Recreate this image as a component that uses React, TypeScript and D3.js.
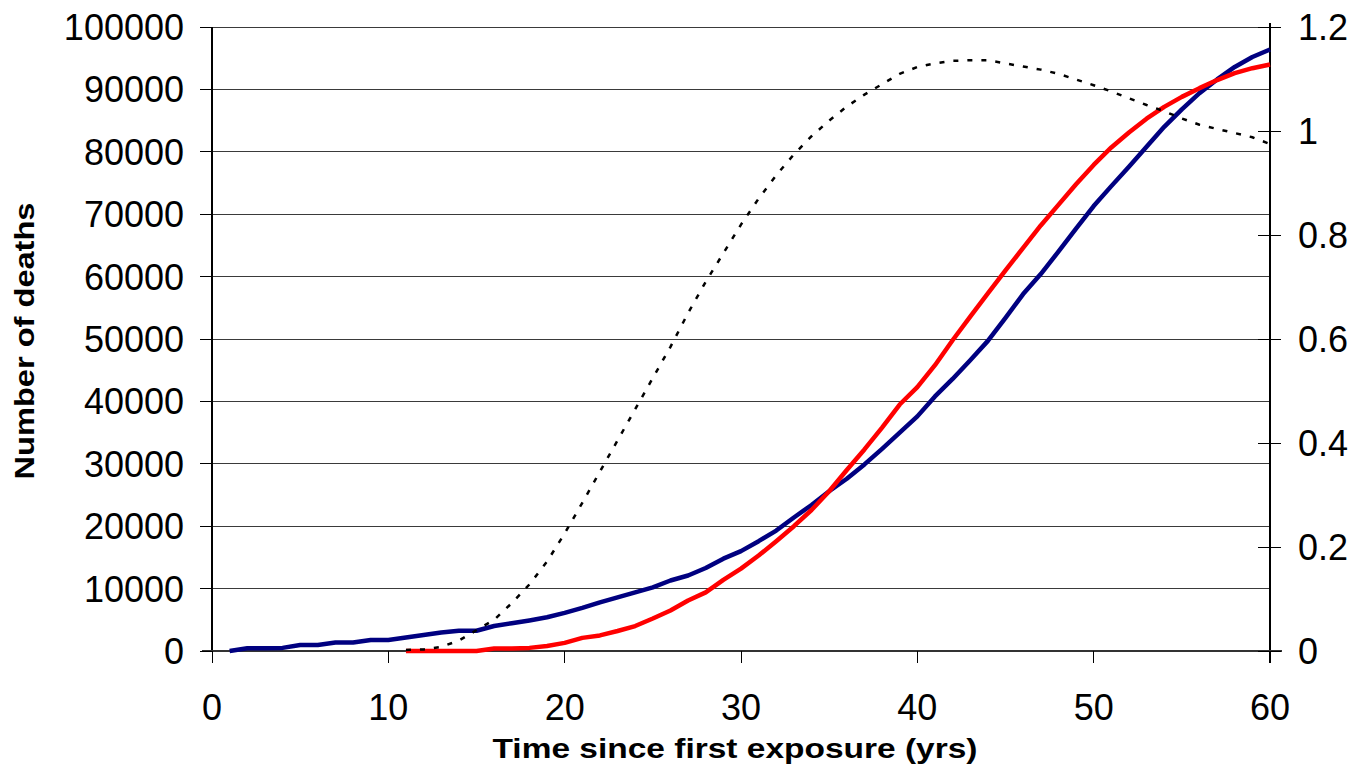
import React from "react";
import * as d3 from "d3";

const blueYears = [1,2,3,4,5,6,7,8,9,10,11,12,13,14,15,16,17,18,19,20,21,22,23,24,25,26,27,28,29,30,31,32,33,34,35,36,37,38,39,40,41,42,43,44,45,46,47,48,49,50,51,52,53,54,55,56,57,58,59,60];
const blueDeaths = [0,450,450,500,950,950,1350,1350,1750,1750,2150,2550,2950,3250,3250,4000,4450,4900,5400,6100,6900,7800,8600,9400,10200,11300,12100,13300,14800,16000,17600,19300,21400,23400,25600,27600,29900,32400,35000,37600,40800,43600,46600,49700,53400,57200,60400,64000,67700,71300,74500,77600,80800,84000,86800,89400,91600,93600,95200,96400];

const redYears = [11,12,13,14,15,16,17,18,19,20,21,22,23,24,25,26,27,28,29,30,31,32,33,34,35,36,37,38,39,40,41,42,43,44,45,46,47,48,49,50,51,52,53,54,55,56,57,58,59,60];
const redDeaths = [0,0,0,0,0,400,400,500,800,1300,2100,2500,3200,4000,5200,6500,8100,9400,11400,13200,15300,17600,20000,22600,25600,29000,32300,35800,39500,42300,45800,49800,53600,57300,61000,64600,68200,71500,74800,77900,80700,83100,85300,87200,88800,90200,91500,92600,93400,94000];

const ratioYears = redYears;
const ratioValues = [0.002,0.003,0.008,0.02,0.04,0.06,0.092,0.128,0.172,0.226,0.285,0.345,0.405,0.465,0.525,0.585,0.65,0.71,0.765,0.82,0.87,0.915,0.955,0.99,1.02,1.047,1.07,1.09,1.11,1.123,1.13,1.135,1.136,1.136,1.13,1.124,1.118,1.11,1.099,1.088,1.076,1.063,1.05,1.038,1.024,1.012,1.004,0.996,0.988,0.975];

const xTicks = [0,10,20,30,40,50,60];
const leftTicks = [0,10000,20000,30000,40000,50000,60000,70000,80000,90000,100000];
const rightTicks = [0,0.2,0.4,0.6,0.8,1,1.2];

const xTitle = "Time since first exposure (yrs)";
const yTitle = "Number of deaths";

export default function App() {
  const W = 1355, H = 770;
  const L = 212, R = 1270, T = 27, B = 651;
  const x = d3.scaleLinear().domain([0, 60]).range([L, R]);
  const yL = d3.scaleLinear().domain([0, 100000]).range([B, T]);
  const yR = d3.scaleLinear().domain([0, 1.2]).range([B, T]);

  const blueLine = d3.line<number>().x((_, i) => x(blueYears[i])).y((d) => yL(d))(blueDeaths) || "";
  const redLine = d3.line<number>().x((_, i) => x(redYears[i])).y((d) => yL(d))(redDeaths) || "";
  const ratioLine = d3.line<number>().x((_, i) => x(ratioYears[i])).y((d) => yR(d))(ratioValues) || "";

  const font = "'Liberation Sans', Arial, sans-serif";

  return (
    <svg width={W} height={H} style={{ position: "absolute", left: 0, top: 0, background: "#fff" }}>
      <rect x={0} y={0} width={W} height={H} fill="#fff" />
      {/* gridlines */}
      {leftTicks.map((t) => (
        <line key={"g" + t} x1={L} x2={R} y1={yL(t)} y2={yL(t)} stroke="#3a3a3a" strokeWidth={1} shapeRendering="crispEdges" />
      ))}
      {/* axes */}
      <line x1={L} x2={L} y1={T} y2={B} stroke="#000" strokeWidth={1.5} shapeRendering="crispEdges" />
      <line x1={R} x2={R} y1={T - 4} y2={B + 12} stroke="#000" strokeWidth={1.5} shapeRendering="crispEdges" />
      <line x1={L - 10} x2={R + 12} y1={B} y2={B} stroke="#333" strokeWidth={2} shapeRendering="crispEdges" />
      {/* left ticks + labels */}
      {leftTicks.map((t) => (
        <g key={"l" + t}>
          <line x1={L - 12} x2={L} y1={yL(t)} y2={yL(t)} stroke="#000" strokeWidth={1} shapeRendering="crispEdges" />
          <text x={184} y={yL(t)} dy="0.36em" textAnchor="end" fontFamily={font} fontSize={36} fill="#000">{t}</text>
        </g>
      ))}
      {/* right ticks + labels */}
      {rightTicks.map((t) => (
        <g key={"r" + t}>
          <line x1={R - 12} x2={R + 11} y1={yR(t)} y2={yR(t)} stroke="#000" strokeWidth={1} shapeRendering="crispEdges" />
          <text x={1298} y={yR(t)} dy="0.36em" textAnchor="start" fontFamily={font} fontSize={36} fill="#000">{t}</text>
        </g>
      ))}
      {/* x ticks + labels */}
      {xTicks.map((t) => (
        <g key={"x" + t}>
          <line x1={x(t)} x2={x(t)} y1={B} y2={B + 12} stroke="#000" strokeWidth={1} shapeRendering="crispEdges" />
          <text x={x(t)} y={720} textAnchor="middle" fontFamily={font} fontSize={36} fill="#000">{t}</text>
        </g>
      ))}
      {/* series */}
      <path d={blueLine} fill="none" stroke="#000080" strokeWidth={4.5} strokeLinejoin="round" />
      <path d={redLine} fill="none" stroke="#ff0000" strokeWidth={4.5} strokeLinejoin="round" />
      <path d={ratioLine} fill="none" stroke="#000" strokeWidth={2.5} strokeDasharray="5,9" />
      {/* titles */}
      <text x={735} y={758} textAnchor="middle" fontFamily={font} fontWeight="bold" fontSize={28} textLength={485} lengthAdjust="spacingAndGlyphs" fill="#000">{xTitle}</text>
      <text transform={`translate(34,341) rotate(-90)`} textAnchor="middle" fontFamily={font} fontWeight="bold" fontSize={28} textLength={277} lengthAdjust="spacingAndGlyphs" fill="#000">{yTitle}</text>
    </svg>
  );
}
